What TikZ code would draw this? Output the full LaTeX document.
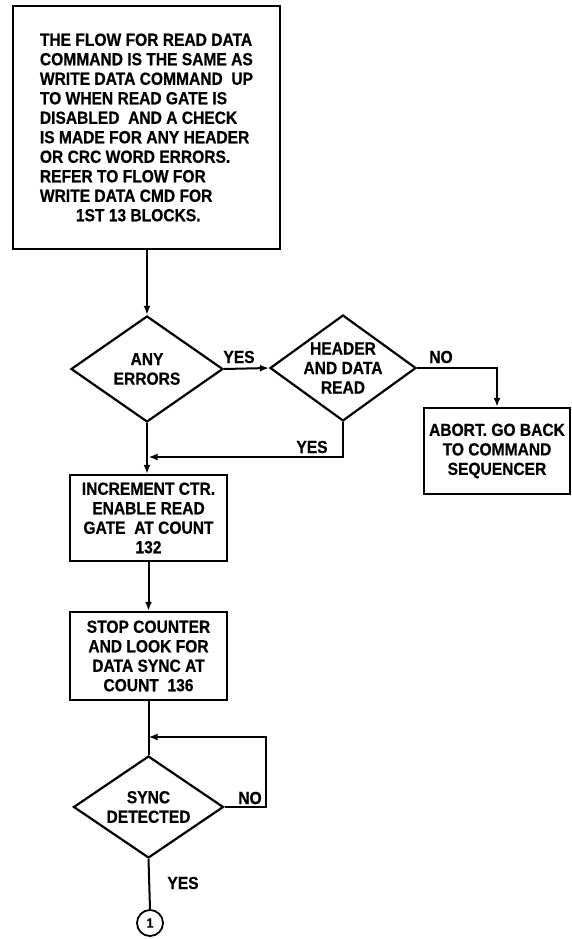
\documentclass[tikz,border=0pt]{standalone}
\usepackage{fontspec}
\setmainfont{Liberation Sans}[BoldFeatures={FakeStretch=0.89, FakeBold=0.6}]
\usetikzlibrary{arrows.meta, positioning, shapes.geometric}
\newcommand{\flowfont}{\fontsize{17.5}{19.5}\selectfont\bfseries}

\begin{document}
\begin{tikzpicture}[x=1pt, y=-1pt,
  box/.style={draw, line width=2.4pt, inner sep=0pt, align=center, font=\flowfont},
  dia/.style={draw, diamond, line width=2.2pt, inner sep=-14pt, align=center, font=\flowfont},
  lbl/.style={inner sep=0pt, font=\flowfont},
  arr/.style={-{Latex[length=9pt, width=7pt]}, line width=2pt},
  ln/.style={line width=2pt}
]
\useasboundingbox (0,0) rectangle (571,939);

\node[box, align=left, minimum width=267pt, minimum height=243pt] (topnote) at (146.5,127.5)
  {THE FLOW FOR READ DATA\\COMMAND IS THE SAME AS\\WRITE DATA COMMAND~ UP\\TO WHEN READ GATE IS\\DISABLED~ AND A CHECK\\IS MADE FOR ANY HEADER\\OR CRC WORD ERRORS.\\REFER TO FLOW FOR\\WRITE DATA CMD FOR\\\hspace*{36pt}1ST 13 BLOCKS.};

\node[dia, minimum width=152pt, minimum height=106pt] (anyerr) at (147,369) {ANY\\ERRORS};
\node[dia, minimum width=146pt, minimum height=106pt] (hdrread) at (343,368) {HEADER\\AND DATA\\READ};
\node[box, minimum width=146pt, minimum height=86pt] (abortbx) at (497,451) {ABORT. GO BACK\\TO COMMAND\\SEQUENCER};
\node[box, minimum width=157pt, minimum height=86pt] (incctr) at (148.5,518) {INCREMENT CTR.\\ENABLE READ\\GATE~ AT COUNT\\132};
\node[box, minimum width=157pt, minimum height=88pt] (stopctr) at (148.5,656) {STOP COUNTER\\AND LOOK FOR\\DATA SYNC AT\\COUNT~ 136};
\node[dia, minimum width=150pt, minimum height=102pt] (syncdet) at (148.5,807) {SYNC\\DETECTED};
\node[draw, circle, line width=1.8pt, minimum size=26pt, inner sep=0pt, font=\fontsize{13.5}{13.5}\selectfont\bfseries] (conn1) at (150,923) {1};

% labels
\node[lbl] (yesa) at (239,357) {YES};
\node[lbl] (noa) at (441,357) {NO};
\node[lbl] (yesb) at (312,447) {YES};
\node[lbl] (nob) at (250,798) {NO};
\node[lbl] (yesc) at (183,883) {YES};

\coordinate (yesjoin) at (148.5,457);
\coordinate (syncjoin) at (148.5,737);

\draw[arr] (topnote.south -| anyerr) -- (anyerr.north);
\draw[arr] (anyerr.east) -- (hdrread.west);
\draw[arr] (hdrread.east) -| (abortbx.north);
\draw[arr] (hdrread.south) |- (yesjoin);
\draw[arr] (anyerr.south) -- (incctr.north -| anyerr);
\draw[arr] (incctr.south) -- (stopctr.north);
\draw[ln] (stopctr.south) -- (syncdet.north);
\draw[arr] (syncdet.east) -- ++(41,0) |- (syncjoin);
\draw[ln] (syncdet.south) -- (conn1.north);
\end{tikzpicture}
\end{document}
